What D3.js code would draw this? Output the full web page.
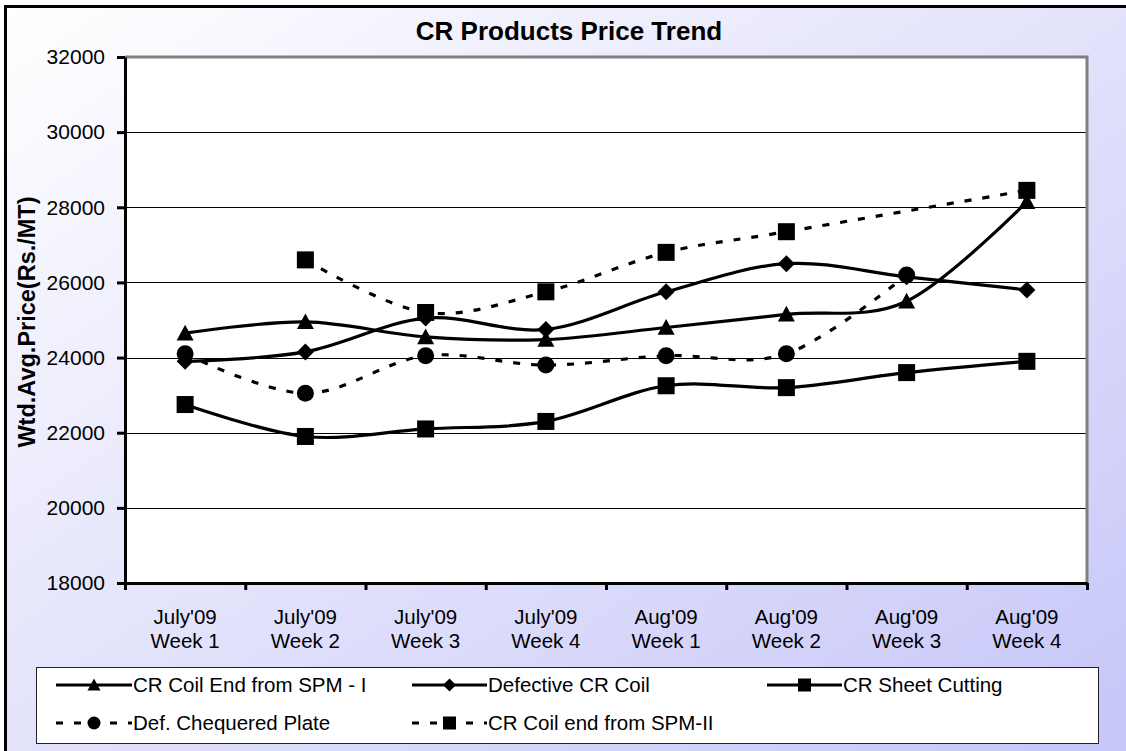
<!DOCTYPE html>
<html>
<head>
<meta charset="utf-8">
<script src="https://cdn.jsdelivr.net/npm/d3@7"></script>
<style>
  body { margin: 0; background: #fff; }
  text { font-family: "Liberation Sans", Arial, sans-serif; fill: #000; }
</style>
</head>
<body>
<div id="chart"></div>
<script>
// chart data
var months = ["July'09", "July'09", "July'09", "July'09", "Aug'09", "Aug'09", "Aug'09", "Aug'09"];
var weeks = ["Week 1", "Week 2", "Week 3", "Week 4", "Week 1", "Week 2", "Week 3", "Week 4"];
var yTicks = [18000, 20000, 22000, 24000, 26000, 28000, 30000, 32000];

var spm1 = [24650, 24950, 24550, 24480, 24800, 25150, 25500, 28150];
var defective = [23900, 24150, 25050, 24750, 25750, 26500, 26150, 25800];
var sheetCutting = [22750, 21900, 22100, 22300, 23250, 23200, 23600, 23900];
var chequered = [24100, 23050, 24050, 23800, 24050, 24100, 26200, null];
var spm2 = [null, 26600, 25200, 25750, 26800, 27350, null, 28450];

var seriesNames = ["CR Coil End from SPM - I", "Defective CR Coil", "CR Sheet Cutting",
  "Def. Chequered Plate", "CR Coil end from SPM-II"];

var series = [
  { name: seriesNames[0], values: spm1, marker: "triangle", dashed: false },
  { name: seriesNames[1], values: defective, marker: "diamond", dashed: false },
  { name: seriesNames[2], values: sheetCutting, marker: "square", dashed: false },
  { name: seriesNames[3], values: chequered, marker: "circle", dashed: true },
  { name: seriesNames[4], values: spm2, marker: "square", dashed: true }
];

var svgWidth = 1126;
var svgHeight = 751;
var plot = { left: 125, top: 57, right: 1087, bottom: 583 };

var svg = d3.select("#chart")
  .append("svg")
  .attr("width", svgWidth)
  .attr("height", svgHeight);

// background gradient of the chart area
var defs = svg.append("defs");
var grad = defs.append("linearGradient")
  .attr("id", "bg")
  .attr("x1", 0).attr("y1", 0)
  .attr("x2", 1).attr("y2", 1);
grad.append("stop").attr("offset", "0%").attr("stop-color", "#ffffff");
grad.append("stop").attr("offset", "100%").attr("stop-color", "#c4c4f8");

svg.append("rect")
  .attr("x", 5.5).attr("y", 6.5)
  .attr("width", 1150).attr("height", 770)
  .attr("fill", "url(#bg)")
  .attr("stroke", "#000")
  .attr("stroke-width", 3);

// title
svg.append("text")
  .attr("x", 569).attr("y", 40)
  .attr("text-anchor", "middle")
  .style("font-size", "26px")
  .style("font-weight", "bold")
  .text("CR Products Price Trend");

// scales
var x = d3.scaleBand()
  .domain(d3.range(months.length))
  .range([plot.left, plot.right]);

var xEdge = d3.scaleLinear()
  .domain([0, months.length])
  .range([plot.left, plot.right]);

var y = d3.scaleLinear()
  .domain([18000, 32000])
  .range([plot.bottom, plot.top]);

// plot area
svg.append("rect")
  .attr("x", plot.left).attr("y", plot.top)
  .attr("width", plot.right - plot.left)
  .attr("height", plot.bottom - plot.top)
  .attr("fill", "#fff");

// gridlines
svg.append("g")
  .selectAll("line")
  .data(yTicks.slice(1, -1))
  .enter()
  .append("line")
  .attr("x1", plot.left).attr("x2", plot.right)
  .attr("y1", d => Math.round(y(d)) + 0.5)
  .attr("y2", d => Math.round(y(d)) + 0.5)
  .attr("stroke", "#000")
  .attr("stroke-width", 1);

// gray border on top and right
svg.append("path")
  .attr("d", `M${plot.left},${plot.top} H${plot.right} V${plot.bottom}`)
  .attr("fill", "none")
  .attr("stroke", "#808080")
  .attr("stroke-width", 3);

// y axis
var yAxis = d3.axisLeft(y)
  .tickValues(yTicks)
  .tickSize(8)
  .tickSizeOuter(0)
  .tickPadding(12)
  .tickFormat(d3.format("d"));

var yg = svg.append("g")
  .attr("transform", `translate(${plot.left}, 0)`)
  .call(yAxis);
yg.select(".domain").attr("stroke", "#000").attr("stroke-width", 3);
yg.selectAll(".tick line").attr("stroke-width", 3);
yg.selectAll(".tick text")
  .style("font-size", "21px")
  .style("font-family", "'Liberation Sans', Arial, sans-serif");

// x axis: ticks sit between the categories
var xAxis = d3.axisBottom(xEdge)
  .tickValues(d3.range(months.length + 1))
  .tickSize(7)
  .tickSizeOuter(0)
  .tickFormat("");

var xg = svg.append("g")
  .attr("transform", `translate(0, ${plot.bottom})`)
  .call(xAxis);
xg.select(".domain").attr("stroke", "#000").attr("stroke-width", 3);
xg.selectAll(".tick line").attr("stroke-width", 3);

var xLabels = svg.append("g")
  .selectAll("text")
  .data(months)
  .enter()
  .append("text")
  .attr("text-anchor", "middle")
  .style("font-size", "20.5px");
xLabels.append("tspan")
  .attr("x", (d, i) => x(i) + x.bandwidth() / 2)
  .attr("y", 624)
  .text(d => d);
xLabels.append("tspan")
  .attr("x", (d, i) => x(i) + x.bandwidth() / 2)
  .attr("y", 648)
  .text((d, i) => weeks[i]);

// y axis title
svg.append("text")
  .attr("transform", "translate(35, 322) rotate(-90)")
  .attr("text-anchor", "middle")
  .style("font-size", "23.5px")
  .style("font-weight", "bold")
  .text("Wtd.Avg.Price(Rs./MT)");

// marker shapes
function drawMarker(g, type, cx, cy, s) {
  var h = s / 2;
  if (type === "circle") {
    g.append("circle").attr("cx", cx).attr("cy", cy).attr("r", h).attr("fill", "#000");
  } else if (type === "square") {
    g.append("rect").attr("x", cx - h).attr("y", cy - h)
      .attr("width", s).attr("height", s).attr("fill", "#000");
  } else if (type === "diamond") {
    g.append("path")
      .attr("d", `M${cx},${cy - h} L${cx + h},${cy} L${cx},${cy + h} L${cx - h},${cy} Z`)
      .attr("fill", "#000");
  } else if (type === "triangle") {
    g.append("path")
      .attr("d", `M${cx},${cy - h} L${cx + h},${cy + h * 0.85} L${cx - h},${cy + h * 0.85} Z`)
      .attr("fill", "#000");
  }
}

var line = d3.line()
  .x(d => x(d.i) + x.bandwidth() / 2)
  .y(d => y(d.v))
  .curve(d3.curveCardinal.tension(0));

var lines = svg.append("g");
series.forEach(function(s) {
  var pts = s.values
    .map((v, i) => ({ i: i, v: v }))
    .filter(d => d.v !== null);

  var sg = lines.append("g");
  sg.append("path")
    .datum(pts)
    .attr("d", line)
    .attr("fill", "none")
    .attr("stroke", "#000")
    .attr("stroke-width", 3.2)
    .attr("stroke-dasharray", s.dashed ? "7,11" : null);

  pts.forEach(function(d) {
    drawMarker(sg, s.marker, x(d.i) + x.bandwidth() / 2, y(d.v), 17);
  });
});

// legend
var legend = svg.append("g");
legend.append("rect")
  .attr("x", 36.5).attr("y", 667.5)
  .attr("width", 1062).attr("height", 76)
  .attr("fill", "#fff")
  .attr("stroke", "#222")
  .attr("stroke-width", 1);

var legendCols = [[56, 132], [412, 487], [767, 842]];
var legendRows = [685, 723];

series.forEach(function(s, k) {
  var col = legendCols[k % 3];
  var ly = legendRows[Math.floor(k / 3)];
  var lg = legend.append("g");
  lg.append("line")
    .attr("x1", col[0]).attr("x2", col[1])
    .attr("y1", ly).attr("y2", ly)
    .attr("stroke", "#000")
    .attr("stroke-width", 3.2)
    .attr("stroke-dasharray", s.dashed ? "7,11" : null);
  drawMarker(lg, s.marker, (col[0] + col[1]) / 2, ly, 13);
  lg.append("text")
    .attr("x", col[1] + 1)
    .attr("y", ly)
    .attr("dy", "0.35em")
    .style("font-size", "20.5px")
    .text(s.name);
});
</script>
</body>
</html>
